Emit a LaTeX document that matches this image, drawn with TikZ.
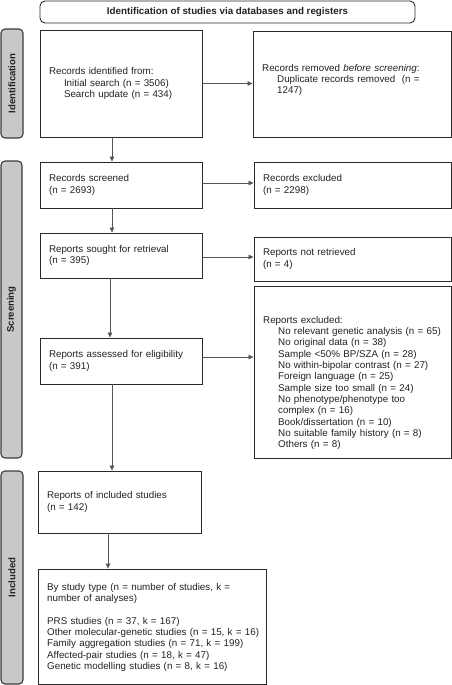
\documentclass[tikz,border=0pt]{standalone}
\usepackage{fontspec}
\setmainfont{Liberation Sans}
\usetikzlibrary{arrows.meta,calc}
\definecolor{txt}{HTML}{222222}
\definecolor{edge}{HTML}{2A2A2A}
\definecolor{side}{HTML}{C8C8C8}
\definecolor{sideedge}{HTML}{3C3C3C}
\definecolor{arrc}{HTML}{555555}
\begin{document}
\begin{tikzpicture}[x=1pt,y=-1pt,
  every node/.style={text=txt, font=\fontsize{9.8}{11.3}\selectfont},
  box/.style={draw=edge, line width=0.9pt, fill=white, inner sep=0pt, align=left},
  plain/.style={inner sep=0pt, align=left, anchor=north west},
  sidebox/.style={draw=sideedge, fill=side, line width=1.1pt, rounded corners=4pt, inner sep=0pt},
  sidetext/.style={rotate=90, font=\fontsize{9.6}{11}\selectfont\bfseries},
  hdrbox/.style={draw=edge, line width=0.9pt, rounded corners=5pt, inner sep=0pt, font=\fontsize{9.8}{11.3}\selectfont\bfseries},
  arr/.style={draw=arrc, line width=0.65pt, -{Triangle[length=5pt,width=4.5pt]}}
]
\useasboundingbox (0,0) rectangle (452,685);

% header
\node[hdrbox, minimum width=375pt, minimum height=22pt] (hdr) at (227.5,12) {Identification of studies via databases and registers};

% side labels
\node[sidebox, minimum width=22pt, minimum height=109pt] (sid) at (12,83.5) {};
\node[sidetext] (sidt) at (sid.center) {Identification};
\node[sidebox, minimum width=21pt, minimum height=297pt] (sscr) at (11.5,309.5) {};
\node[sidetext] (sscrt) at (sscr.center) {Screening};
\node[sidebox, minimum width=22pt, minimum height=213pt] (sinc) at (12,577.5) {};
\node[sidetext] (sinct) at (sinc.center) {Included};

% boxes left column
\node[box, minimum width=162pt, minimum height=107pt, text width=144pt] (rid) at (121,83.5)
  {Records identified from:\\\hspace*{15pt}Initial search (n = 3506)\\\hspace*{15pt}Search update (n = 434)};
\node[box, minimum width=162pt, minimum height=46pt, text width=144pt] (rs) at (121,185)
  {Records screened\\(n = 2693)};
\node[box, minimum width=162pt, minimum height=45pt, text width=144pt] (rsr) at (121,255.5)
  {Reports sought for retrieval\\(n = 395)};
\node[box, minimum width=162pt, minimum height=46pt, text width=144pt] (ra) at (121,361)
  {Reports assessed for eligibility\\(n = 391)};
\node[box, minimum width=163pt, minimum height=62pt, text width=145pt] (rinc) at (119.5,502)
  {Reports of included studies\\(n = 142)};
\node[box, minimum width=228pt, minimum height=115pt] (rtype) at (152,626.5) {};
\node[inner sep=0pt, align=left, anchor=west, text width=225pt] (rtypet) at (47,627.5)
  {By study type (n = number of studies, k =\\number of analyses)\\[11.3pt]PRS studies (n = 37, k = 167)\\Other molecular-genetic studies (n = 15, k = 16)\\Family aggregation studies (n = 71, k = 199)\\Affected-pair studies (n = 18, k = 47)\\Genetic modelling studies (n = 8, k = 16)};

% boxes right column
\node[box, minimum width=198pt, minimum height=106pt] (rrm) at (352,84) {};
\node[plain, text width=185pt] (rrmt) at (262,64)
  {Records removed \textit{before screening}:\\\hspace*{15pt}Duplicate records removed\ \ (n =\\\hspace*{15pt}1247)};
\node[box, minimum width=197pt, minimum height=46pt, text width=179pt] (rex) at (352.5,185)
  {Records excluded\\(n = 2298)};
\node[box, minimum width=197pt, minimum height=44pt, text width=179pt] (rnr) at (352.5,259)
  {Reports not retrieved\\(n = 4)};
\node[box, minimum width=197pt, minimum height=172pt] (rexl) at (352.5,372) {};
\node[plain, text width=185pt] (rexlt) at (263,316)
  {Reports excluded:\\
   \hspace*{15pt}No relevant genetic analysis (n = 65)\\
   \hspace*{15pt}No original data (n = 38)\\
   \hspace*{15pt}Sample <50\% BP/SZA (n = 28)\\
   \hspace*{15pt}No within-bipolar contrast (n = 27)\\
   \hspace*{15pt}Foreign language (n = 25)\\
   \hspace*{15pt}Sample size too small (n = 24)\\
   \hspace*{15pt}No phenotype/phenotype too\\
   \hspace*{15pt}complex (n = 16)\\
   \hspace*{15pt}Book/dissertation (n = 10)\\
   \hspace*{15pt}No suitable family history (n = 8)\\
   \hspace*{15pt}Others (n = 8)};

% helper coordinates
\coordinate (v1) at (112,0);
\coordinate (v2) at (110,0);
\coordinate (v3) at (108,0);
\coordinate (h2) at (0,183);
\coordinate (h3) at (0,257);
\coordinate (h4) at (0,357);

% vertical arrows
\draw[arr] (rid.south -| v1) -- (rs.north -| v1);
\draw[arr] (rs.south -| v1) -- (rsr.north -| v1);
\draw[arr] (rsr.south -| v2) -- (ra.north -| v2);
\draw[arr] (ra.south -| v1) -- (rinc.north -| v1);
\draw[arr] (rinc.south -| v3) -- (rtype.north -| v3);

% horizontal arrows
\draw[arr] (rid.east) -- (rid.east -| rrm.west);
\draw[arr] (rs.east |- h2) -- (rex.west |- h2);
\draw[arr] (rsr.east |- h3) -- (rnr.west |- h3);
\draw[arr] (ra.east |- h4) -- (rexl.west |- h4);
\end{tikzpicture}
\end{document}
